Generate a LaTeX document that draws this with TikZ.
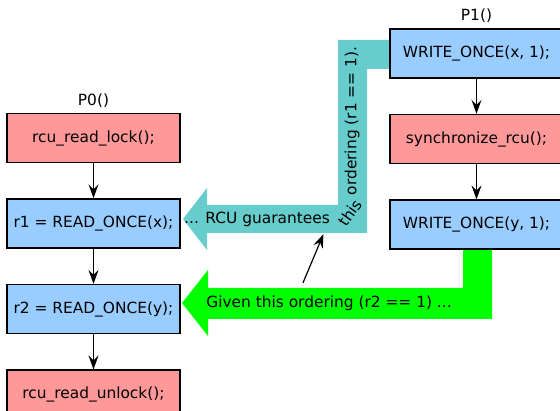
\documentclass[tikz,border=0pt]{standalone}
\usepackage{fontspec}
\setmainfont{DejaVu Sans}
\usepackage{tikz}
\usetikzlibrary{arrows.meta,positioning,backgrounds}
\definecolor{lockred}{RGB}{255,153,153}
\definecolor{accblue}{RGB}{153,204,255}
\definecolor{rcuteal}{RGB}{102,204,204}
\definecolor{givengreen}{RGB}{0,255,0}

\begin{document}
\begin{tikzpicture}[x=1pt,y=-1pt,font=\fontsize{15.4}{18}\selectfont,
  >={Stealth[length=14pt,width=10pt,inset=5pt]},node distance=35pt,
  op/.style={draw,line width=1.6pt,minimum width=173pt,minimum height=49pt,inner sep=0pt},
  rd/.style={op,fill=lockred},
  bl/.style={op,fill=accblue},
  flow/.style={->,line width=1.5pt},
  say/.style={inner sep=0.5pt}]
\useasboundingbox (0,0) rectangle (560,411);
\clip (0,0) rectangle (560,411);
% reader P0
\node[rd](l1) at (93.5,138){rcu\_read\_lock();};
\node[bl,below=of l1](l2){r1 = READ\_ONCE(x);};
\node[bl,below=of l2](l3){r2 = READ\_ONCE(y);};
\node[rd,below=of l3](l4){rcu\_read\_unlock();};
\node[above=2pt of l1](p0){P0()};
\draw[flow](l1)--(l2); \draw[flow](l2)--(l3); \draw[flow](l3)--(l4);
% updater P1
\node[bl](w1) at (476.5,53.5){WRITE\_ONCE(x, 1);};
\node[rd,below=of w1](sy){synchronize\_rcu();};
\node[bl,below=of sy](w2){WRITE\_ONCE(y, 1);};
\node[above=2pt of w1](p1){P1()};
\draw[flow](w1)--(sy); \draw[flow](sy)--(w2);
% ordering arrows
\begin{scope}[on background layer]
  \fill[rcuteal](395,40)--(338,40)--(338,205)--(207,205)--(207,188)--(183,219)
    --(207,250)--(207,233)--(367,233)--(367,69)--(395,69)--cycle;
  \fill[givengreen](463,240)--(463,288)--(208,288)--(208,270)--(182,303)
    --(208,336)--(208,319)--(492,319)--(492,240)--cycle;
\end{scope}
\node[say](guar) at (257,219){... RCU guarantees};
\node[say,rotate=55](this) at (350,213){this};
\node[say,rotate=90](order) at (352,121){ordering (r1 == 1).};
\node[say](given) at (329,303){Given this ordering (r2 == 1) ...};
\draw[->,line width=1.2pt]([xshift=-26pt,yshift=12pt]given.north)--([xshift=-7pt,yshift=-7pt]guar.south east);
\end{tikzpicture}
\end{document}
